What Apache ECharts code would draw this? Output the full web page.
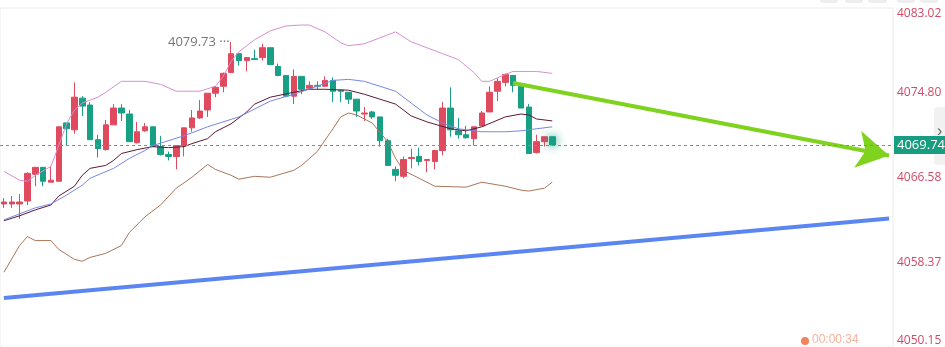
<!DOCTYPE html>
<html>
<head>
<meta charset="utf-8">
<script src="https://cdn.jsdelivr.net/npm/echarts@6/dist/echarts.min.js"></script>
<style>
  html, body { margin: 0; padding: 0; background: #fff; }
  #kline { width: 945px; height: 347px; }
</style>
</head>
<body>
<div id="kline"></div>
<script>
// 右侧价格刻度
var yTicks = [4050.15, 4058.37, 4066.58, 4074.80, 4083.02];
var lastPrice = 4069.74;

// K线 [开, 收, 低, 高]
var candles = [
    [4064.02, 4064.21, 4063.64, 4064.59], [4064.02, 4064.21, 4063.64, 4064.79], [4064.02, 4064.21, 4062.58, 4064.98],
    [4064.31, 4066.99, 4063.92, 4067.09], [4066.90, 4067.57, 4065.74, 4067.60], [4067.57, 4066.22, 4065.74, 4067.60],
    [4066.13, 4066.32, 4066.13, 4067.66], [4066.22, 4071.50, 4066.22, 4071.50], [4071.88, 4071.31, 4069.68, 4071.88],
    [4071.21, 4074.37, 4070.83, 4075.81], [4074.28, 4073.51, 4072.55, 4074.47], [4073.61, 4070.25, 4070.25, 4073.89],
    [4070.25, 4069.39, 4068.53, 4070.73], [4069.29, 4071.69, 4069.20, 4072.17], [4071.69, 4073.32, 4071.69, 4073.70],
    [4073.32, 4072.84, 4072.07, 4073.70], [4072.74, 4070.06, 4070.06, 4073.13], [4069.96, 4071.02, 4069.87, 4071.98],
    [4071.11, 4071.50, 4071.02, 4071.88], [4071.50, 4069.58, 4069.58, 4071.50], [4069.58, 4068.81, 4068.72, 4070.63],
    [4068.81, 4068.62, 4068.24, 4069.10], [4068.62, 4069.68, 4067.37, 4069.68], [4069.68, 4071.40, 4068.62, 4071.40],
    [4071.40, 4072.36, 4071.02, 4073.13], [4072.36, 4073.03, 4072.26, 4074.09], [4073.13, 4074.76, 4072.46, 4074.76],
    [4074.76, 4075.33, 4074.37, 4075.43], [4075.43, 4076.68, 4074.85, 4076.77], [4076.77, 4078.59, 4076.77, 4079.73],
    [4078.59, 4077.92, 4077.44, 4078.59], [4077.92, 4078.21, 4076.87, 4078.21], [4078.11, 4078.02, 4078.02, 4078.98],
    [4078.21, 4079.17, 4077.92, 4079.55], [4079.17, 4077.54, 4077.54, 4079.17], [4077.35, 4076.48, 4076.39, 4077.63],
    [4076.48, 4074.47, 4074.37, 4076.48], [4074.47, 4076.39, 4073.70, 4077.06], [4076.39, 4075.14, 4074.66, 4076.39],
    [4075.24, 4075.52, 4075.14, 4075.91], [4075.52, 4075.43, 4075.14, 4075.91], [4075.43, 4076.00, 4075.43, 4076.39],
    [4076.00, 4074.95, 4073.89, 4076.29], [4075.05, 4074.95, 4073.89, 4075.05], [4074.85, 4074.18, 4073.70, 4074.85],
    [4074.18, 4073.03, 4072.46, 4074.18], [4072.74, 4072.84, 4072.07, 4073.41], [4072.94, 4072.46, 4072.26, 4073.03],
    [4072.46, 4070.16, 4069.58, 4072.46], [4070.16, 4067.76, 4067.76, 4070.35], [4067.37, 4066.80, 4066.22, 4067.66],
    [4066.70, 4068.33, 4066.51, 4068.62], [4068.43, 4068.53, 4067.47, 4069.39], [4068.62, 4068.14, 4067.76, 4069.48],
    [4068.24, 4068.33, 4067.09, 4068.33], [4068.14, 4069.20, 4067.37, 4069.20], [4069.20, 4073.32, 4068.72, 4073.89],
    [4073.32, 4071.21, 4070.54, 4075.33], [4071.11, 4070.73, 4070.35, 4072.36], [4070.73, 4070.44, 4070.35, 4071.59],
    [4070.35, 4071.50, 4069.68, 4071.50], [4071.59, 4072.84, 4071.59, 4073.03], [4072.94, 4074.85, 4072.94, 4075.43],
    [4074.95, 4075.91, 4073.99, 4076.20], [4075.81, 4076.58, 4075.43, 4076.68], [4076.48, 4075.52, 4074.85, 4076.48],
    [4075.43, 4073.32, 4073.32, 4075.52], [4073.41, 4068.91, 4068.91, 4073.70], [4069.00, 4070.06, 4068.91, 4070.73],
    [4070.06, 4070.54, 4069.58, 4070.54], [4070.54, 4069.74, 4069.68, 4070.54]
];

// 布林上轨 / 中轨 / 下轨, 均线 (读图取点, null 处连线)
var upperBand = [
    4067.18, null, 4066.32, 4066.22, 4066.80, null, 4067.66, 4069.68, 4071.79, 4073.13,
    4073.80, null, 4074.37, 4074.85, null, 4075.91, null, null, 4075.91, null,
    4075.62, null, 4074.95, null, null, 4074.95, null, 4075.43, 4076.39, 4077.83,
    4078.78, null, 4079.94, null, 4080.80, null, 4081.28, null, 4081.37, 4081.37,
    null, 4080.70, null, 4079.65, 4079.36, null, 4079.55, null, 4080.13, null,
    4080.70, null, 4079.74, null, null, null, 4078.59, null, 4078.02, null,
    4076.77, 4075.91, 4075.91, null, 4076.58, 4076.87, null, null, 4076.87, null,
    4076.68
];
var midBand = [
    4062.39, null, 4062.87, null, 4063.44, null, 4063.92, 4064.79, null, 4065.74,
    4066.80, 4067.47, null, 4067.76, 4068.24, 4068.91, null, 4069.29, null, 4069.58,
    null, 4069.48, null, 4069.58, 4069.87, null, 4070.35, 4071.02, null, 4071.79,
    null, 4072.94, 4073.70, null, 4074.37, null, null, 4074.85, null, 4075.14,
    null, 4075.14, null, null, 4075.05, null, 4074.66, null, 4074.18, null,
    4073.70, null, 4072.55, null, 4071.98, null, null, 4071.31, null, 4071.11,
    null, 4071.50, null, null, 4072.46, null, 4072.74, 4072.65, 4072.26, null,
    4072.07
];
var lowerBand = [
    4057.40, null, 4059.99, 4060.86, 4060.47, null, 4060.47, 4059.61, null, 4058.65,
    4058.46, 4058.84, null, 4059.23, null, 4059.99, 4061.24, null, 4062.77, null,
    4063.92, null, 4065.55, null, 4066.61, null, 4067.85, 4067.37, null, 4066.80,
    4066.42, null, 4066.70, null, 4066.61, null, null, 4067.28, 4067.76, null,
    4069.10, null, 4071.31, 4072.46, 4072.84, 4072.65, null, 4071.88, null, 4070.06,
    4068.43, 4067.28, null, 4066.51, null, 4065.74, null, null, null, 4065.65,
    null, 4066.13, null, null, 4065.74, null, 4065.36, 4065.27, null, 4065.55,
    4066.13
];
var maLine = [
    4062.48, null, null, 4063.35, 4063.64, null, 4064.02, null, 4064.88, null,
    4065.84, 4066.51, null, null, 4067.47, null, 4068.43, null, 4069.20, 4069.68,
    null, null, null, 4070.63, null, null, 4071.50, null, null, null,
    4072.46, null, null, null, 4073.99, null, null, 4074.66, null, null,
    4075.43, null, 4076.00, null, 4076.10, null, 4075.91, null, 4075.43, null,
    4074.95, null, 4073.80, null, 4072.65, null, 4071.88, null, 4071.31, null,
    null, 4071.02, null, null, 4071.02, null, 4071.11, null, 4071.31, null,
    4071.50
];

// 画线: 上升趋势线 + 绿色箭头 [类目序号, 价格]
var trendLine = [[0, 4054.90], [113, 4062.60]];
var arrowLine = [[65, 4075.75], [113, 4068.72]];

// 类目 (右侧留白到坐标轴)
var categories = [];
for (var i = 0; i < 114; i++) {
    categories.push(String(i));
}

var upColor = '#e04a5f';
var downColor = '#17a084';

var kData = candles.map(function (c, idx) {
    if (idx === candles.length - 1) {
        return { value: c, itemStyle: { shadowBlur: 10, shadowColor: 'rgba(23,160,132,0.9)' } };
    }
    return c;
});

function bandSeries(name, data, color) {
    return {
        name: name,
        type: 'line',
        data: data,
        connectNulls: true,
        showSymbol: false,
        silent: true,
        lineStyle: { width: 1, color: color },
        z: 3
    };
}

var myChart = echarts.init(document.getElementById('kline'));

var option = {
    animation: false,
    backgroundColor: '#fff',
    textStyle: { fontFamily: 'Open Sans, Noto Sans, sans-serif' },
    grid: {
        left: -4, right: 52, top: 8, bottom: -4,
        show: true, borderColor: '#ececec', borderWidth: 1
    },
    xAxis: {
        type: 'category',
        data: categories,
        boundaryGap: true,
        axisLine: { show: false },
        axisTick: { show: false },
        axisLabel: { show: false },
        splitLine: { show: false }
    },
    yAxis: {
        type: 'value',
        position: 'right',
        min: yTicks[0],
        max: yTicks[yTicks.length - 1],
        axisLine: { show: false },
        axisTick: { show: false },
        splitLine: { show: false },
        axisLabel: {
            customValues: yTicks,
            formatter: function (v) { return v.toFixed(2); },
            color: '#d04a66',
            fontSize: 12,
            margin: 4,
            verticalAlignMaxLabel: 'top',
            verticalAlignMinLabel: 'bottom'
        }
    },
    graphic: [
        // 顶部按钮、右侧收起条、底部倒计时
        { type: 'rect', left: 820, top: -6, shape: { width: 18, height: 9, r: 3 }, style: { fill: '#eeeeee' } },
        { type: 'rect', left: 845, top: -6, shape: { width: 18, height: 9, r: 3 }, style: { fill: '#eeeeee' } },
        { type: 'rect', left: 868, top: -6, shape: { width: 19, height: 9, r: 3 }, style: { fill: '#eeeeee' } },
        { type: 'rect', left: 897, top: -6, shape: { width: 18, height: 9, r: 3 }, style: { fill: '#eeeeee' } },
        { type: 'rect', left: 920, top: -6, shape: { width: 18, height: 9, r: 3 }, style: { fill: '#eeeeee' } },
        { type: 'rect', left: 934, top: 107, shape: { width: 16, height: 58, r: 4 }, style: { fill: '#f1f1f1' }, z: 0 },
        { type: 'text', left: 937, top: 124, style: { text: '›', fill: '#666', fontSize: 16 }, z: 0 },
        { type: 'text', left: 812, top: 334, style: { text: '00:00:34', fill: '#f4b29c', fontSize: 12 } },
        { type: 'circle', left: 801, top: 337, shape: { r: 4 }, style: { fill: '#f2835e' } }
    ],
    series: [
        {
            name: 'K',
            type: 'candlestick',
            data: kData,
            barWidth: 6,
            itemStyle: {
                color: upColor,
                color0: downColor,
                borderColor: upColor,
                borderColor0: downColor,
                borderWidth: 1
            },
            markPoint: {
                symbol: 'circle',
                symbolSize: 1,
                itemStyle: { color: 'rgba(0,0,0,0)' },
                label: {
                    show: true,
                    position: 'left',
                    distance: 1,
                    color: '#777',
                    fontSize: 13,
                    formatter: function (p) { return p.value.toFixed(2) + ' ···'; }
                },
                data: [{ type: 'max', valueDim: 'highest' }]
            },
            markLine: {
                silent: true,
                symbol: 'none',
                data: [
                    [
                        { coord: trendLine[0], symbol: 'none', lineStyle: { color: '#5b86f1', width: 4, type: 'solid' }, label: { show: false } },
                        { coord: trendLine[1], symbol: 'none' }
                    ],
                    [
                        { coord: arrowLine[0], symbol: 'none', lineStyle: { color: '#7fd21e', width: 4, type: 'solid' }, label: { show: false } },
                        { coord: arrowLine[1], symbol: 'arrow', symbolSize: [28, 32] }
                    ]
                ]
            },
            z: 2
        },
        {
            // 最新价虚线
            name: 'last',
            type: 'line',
            data: [],
            silent: true,
            markLine: {
                silent: true,
                symbol: 'none',
                lineStyle: { type: [3, 3], color: '#2fb596', width: 1 },
                label: {
                    show: true,
                    position: 'end',
                    distance: 1,
                    formatter: lastPrice.toFixed(2),
                    color: '#fff',
                    fontSize: 13,
                    backgroundColor: '#179e80',
                    padding: [3, 4, 2, 3]
                },
                data: [{ yAxis: lastPrice }]
            }
        },
        bandSeries('UP', upperBand, '#d68fd2'),
        bandSeries('MID', midBand, '#5c1a33'),
        bandSeries('MA', maLine, '#7787e6'),
        bandSeries('DN', lowerBand, '#a8775a')
    ]
};

myChart.setOption(option);
</script>
</body>
</html>
